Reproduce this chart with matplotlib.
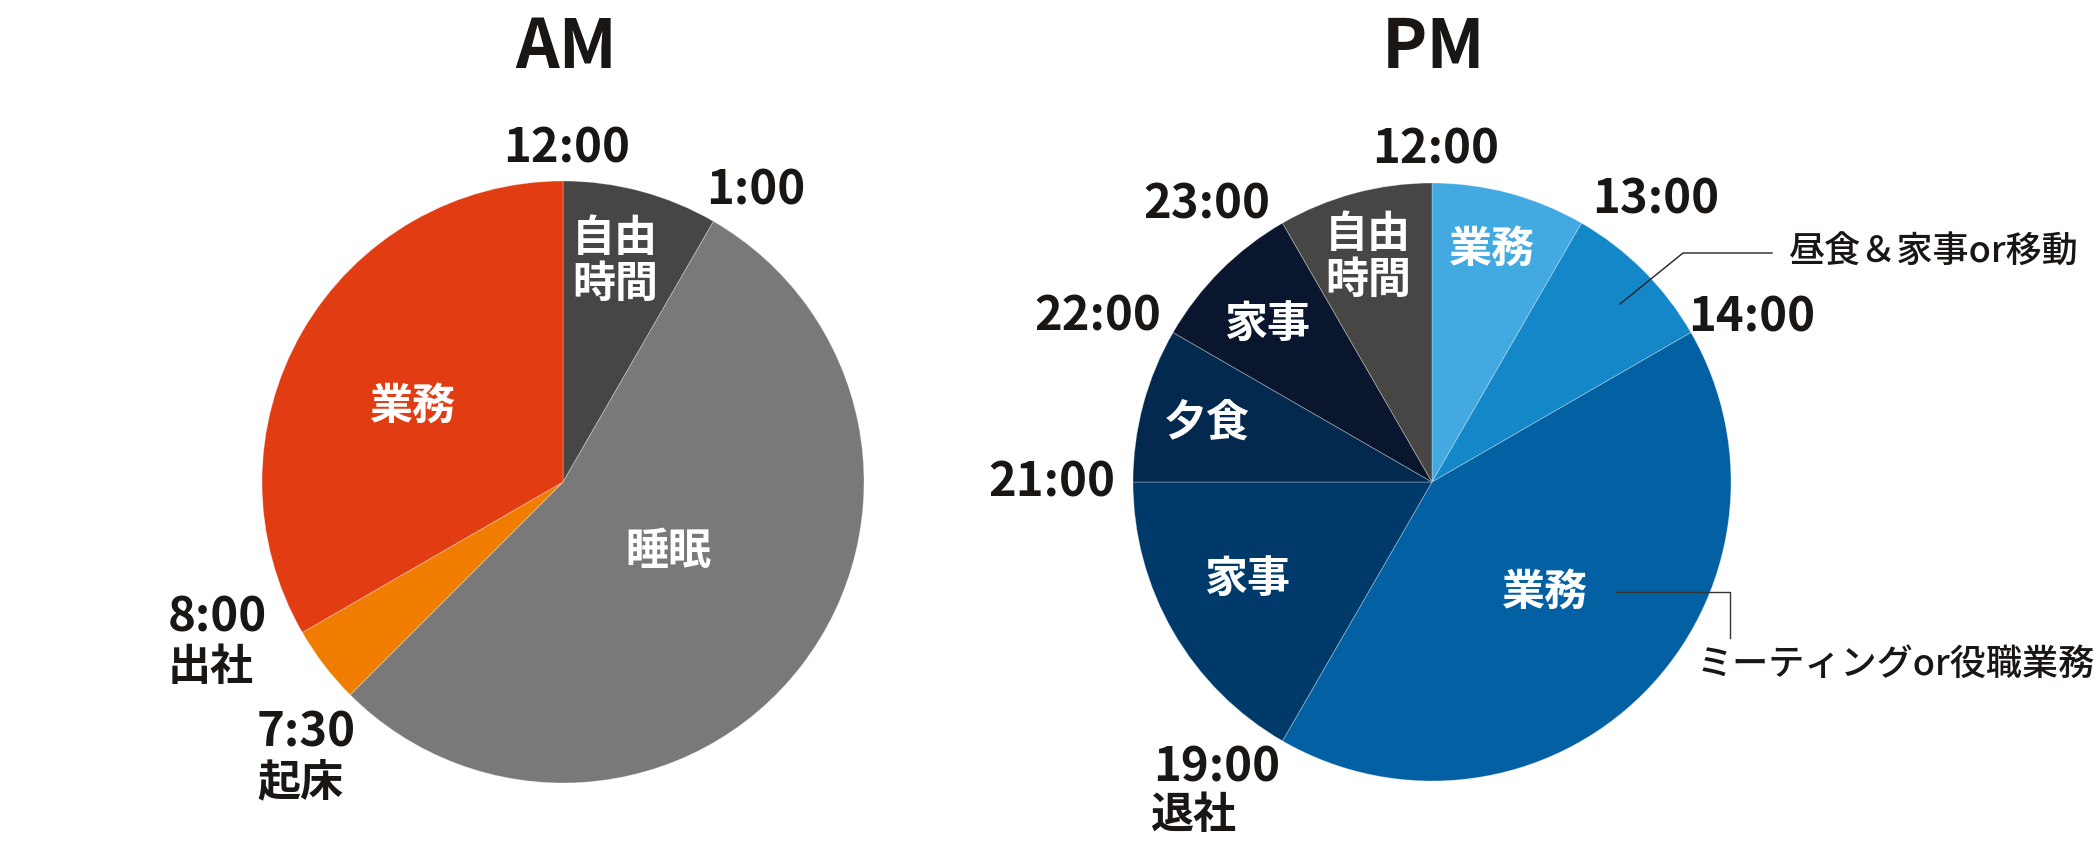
import matplotlib
matplotlib.use('Agg')
import matplotlib.pyplot as plt

plt.rcParams['font.family'] = ['Noto Sans CJK JP', 'DejaVu Sans']

# 午前 (12時間)
am_hours = [1, 6.5, 0.5, 4]
am_names = ['自由\n時間', '睡眠', '', '業務']
am_colors = ['#474645', '#797979', '#f17d00', '#e23d12']

# 午後 (12時間)
pm_hours = [1, 1, 5, 2, 1, 1, 1]
pm_names = ['業務', '', '業務', '家事', '夕食', '家事', '自由\n時間']
pm_colors = ['#42a9e1', '#1487c9', '#0260a3', '#003a6b', '#03294f', '#09162d', '#474645']

W, H = 2100, 846
TXT = '#1a1614'

fig = plt.figure(figsize=(21, 8.46), dpi=100)
ax = fig.add_axes([0, 0, 1, 1])


def Y(y):
    # 上から測った画素位置を下からの座標に
    return H - y


wp = dict(linewidth=0.6, edgecolor=(1, 1, 1, 0.35))
ax.pie(am_hours, colors=am_colors, startangle=90, counterclock=False,
       center=(563, Y(482)), radius=301, wedgeprops=wp)
ax.pie(pm_hours, colors=pm_colors, startangle=90, counterclock=False,
       center=(1432, Y(482)), radius=299, wedgeprops=wp)

ax.set_xlim(0, W)
ax.set_ylim(0, H)
ax.set_aspect('equal')
ax.axis('off')


def put(s, x, y, size=34, color=TXT, ha='center', weight='bold'):
    ax.text(x, Y(y), s, fontsize=size, color=color, ha=ha, va='center',
            fontweight=weight, linespacing=1.05)


# タイトル
put('AM', 566, 48, size=49)
put('PM', 1434, 48, size=49)

# 午前の時刻
put('12:00', 567, 148)
put('1:00', 756, 190)
put('8:00', 168, 618, ha='left')
put('出社', 168, 667, size=31, ha='left')
put('7:30', 257, 732, ha='left')
put('起床', 257, 782, size=31, ha='left')

# 午前の項目
put(am_names[0], 615, 261, size=31, color='white')
put(am_names[1], 668, 551, size=31, color='white')
put(am_names[3], 413, 406, size=31, color='white')

# 午後の時刻
put('12:00', 1436, 149)
put('13:00', 1656, 199)
put('14:00', 1752, 317)
put('23:00', 1207, 204)
put('22:00', 1098, 316)
put('21:00', 1052, 482)
put('19:00', 1153, 767, ha='left')
put('退社', 1150, 815, size=31, ha='left')

# 午後の項目
pm_pos = [(1492, 249), None, (1545, 592), (1247, 579), (1207, 423),
          (1267, 324), (1368, 257)]
for name, pos in zip(pm_names, pm_pos):
    if pos:
        put(name, pos[0], pos[1], size=31, color='white')

# 注釈
put('昼食＆家事or移動', 1788, 253, size=26, ha='left', weight='medium')
put('ミーティングor役職業務', 1697, 665, size=26, ha='left', weight='medium')
ax.plot([1620, 1683, 1772], [Y(304), Y(253), Y(253)], color='#222222', lw=1)
ax.plot([1616, 1730, 1730], [Y(592), Y(592), Y(638)], color='#333333', lw=1)

fig.savefig('out.png', dpi=100, facecolor='white')
